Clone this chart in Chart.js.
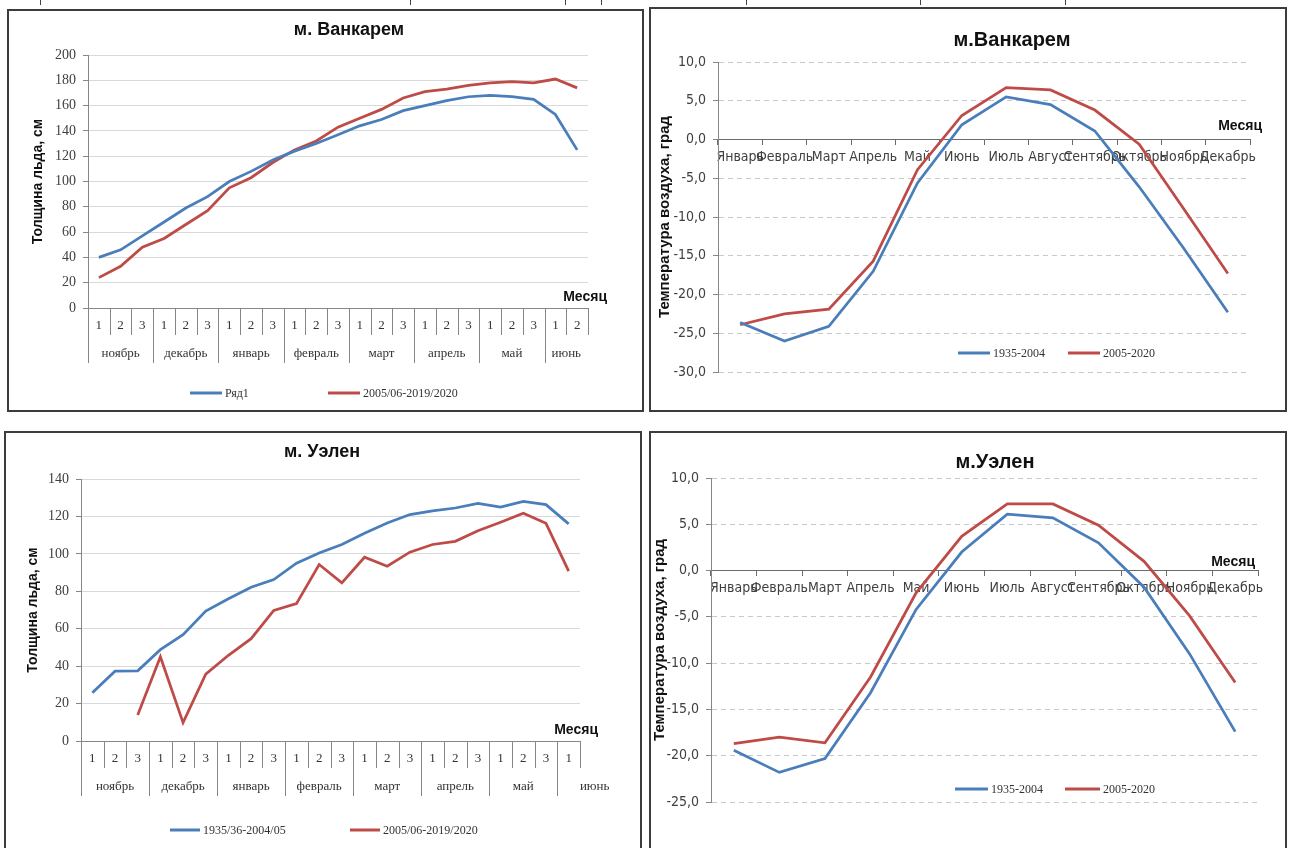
<!DOCTYPE html>
<html>
<head>
<meta charset="utf-8">
<script src="https://cdn.jsdelivr.net/npm/chart.js@4.4.1/dist/chart.umd.min.js"></script>
<style>
  body { margin: 0; background: #fff; }
  #page { position: relative; width: 1291px; height: 848px; overflow: hidden; background: #fff; }
  .panel { position: absolute; box-sizing: border-box; border: 2px solid #3c3c3c; }
  .panel canvas { position: absolute; left: 0; top: 0; }
  .mark { position: absolute; top: 0; width: 1px; height: 5px; background: #444; }
</style>
</head>
<body>
<div id="page">
  <div class="mark" style="left:40px"></div>
  <div class="mark" style="left:410px"></div>
  <div class="mark" style="left:565px"></div>
  <div class="mark" style="left:601px"></div>
  <div class="mark" style="left:746px"></div>
  <div class="mark" style="left:920px"></div>
  <div class="mark" style="left:1065px"></div>

  <div class="panel" style="left:7px;top:9px;width:637px;height:403px"><canvas id="iceVankarem" width="633" height="399"></canvas></div>
  <div class="panel" style="left:649px;top:7px;width:638px;height:405px"><canvas id="tempVankarem" width="634" height="401"></canvas></div>
  <div class="panel" style="left:4px;top:431px;width:638px;height:421px"><canvas id="iceUelen" width="634" height="417"></canvas></div>
  <div class="panel" style="left:649px;top:431px;width:638px;height:421px"><canvas id="tempUelen" width="634" height="417"></canvas></div>
</div>

<script>
// ---- data ----
const iceMonths = ["ноябрь", "декабрь", "январь", "февраль", "март", "апрель", "май", "июнь"];
const vankaremDekads = [3, 3, 3, 3, 3, 3, 3, 2]; // dekads shown per month
const uelenDekads = [3, 3, 3, 3, 3, 3, 3, 1];

const vankaremIceOld = [40, 46, 57, 68, 79, 88, 100, 108, 117, 124, 130, 137, 144, 149, 156, 160, 164, 167, 168, 167, 165, 153, 125];
const vankaremIceNew = [24, 33, 48, 55, 66, 77, 95, 103, 115, 125, 132, 143, 150, 157, 166, 171, 173, 176, 178, 179, 178, 181, 174];

const uelenIceOld = [25.8, 37.3, 37.5, 48.8, 56.8, 69.4, 76, 82.2, 86.3, 95, 100.5, 105, 111, 116.5, 121, 123, 124.5, 127, 125, 128, 126.3, 116];
const uelenIceNew = [null, null, 13.9, 45, 9.8, 35.7, 45.8, 54.7, 69.8, 73.4, 94.3, 84.5, 98.2, 93.4, 100.9, 105, 106.7, 112.4, 116.9, 121.7, 116.3, 90.8];

const tempMonths = ["Январь", "Февраль", "Март", "Апрель", "Май", "Июнь", "Июль", "Август", "Сентябрь", "Октябрь", "Ноябрь", "Декабрь"];
const vankaremTempOld = [-23.6, -26.0, -24.1, -17.0, -5.6, 1.9, 5.5, 4.5, 1.1, -6.1, -14.0, -22.3];
const vankaremTempNew = [-23.9, -22.5, -21.9, -15.7, -3.9, 3.1, 6.7, 6.4, 3.8, -0.6, -8.9, -17.3];
const uelenTempOld = [-19.4, -21.8, -20.3, -13.2, -4.2, 2.0, 6.1, 5.7, 3.0, -1.8, -9.0, -17.4];
const uelenTempNew = [-18.7, -18.0, -18.6, -11.5, -2.4, 3.7, 7.2, 7.2, 4.9, 1.0, -4.9, -12.1];

// ---- style ----
const BLUE = "#4a7ebb";
const RED = "#be4b48";
const SANS = "'Liberation Sans', Arial, sans-serif";
const NARROW = "'Liberation Sans Narrow', 'DejaVu Sans Condensed', 'Liberation Sans', sans-serif";
const SERIF = "'Liberation Serif', 'DejaVu Serif', serif";

// extra texts per canvas (title, "Месяц", legend, grouped month axis)
const decor = {
  iceVankarem: {
    title: "м. Ванкарем", titleFont: "bold 18px " + SANS, titleX: 340, titleY: 19,
    monthDx: 19, monthDy: 11,
    legendY: 382, legendFont: "12px " + SERIF,
    legend: [[181, 213, BLUE, "Ряд1"], [319, 351, RED, "2005/06-2019/2020"]],
    groups: vankaremDekads, lastShift: 0,
  },
  tempVankarem: {
    title: "м.Ванкарем", titleFont: "bold 20px " + SANS, titleX: 361, titleY: 31,
    monthDx: 12, monthDy: 13,
    legendY: 344, legendFont: "12px " + SERIF,
    legend: [[307, 339, BLUE, "1935-2004"], [417, 449, RED, "2005-2020"]],
  },
  iceUelen: {
    title: "м. Уэлен", titleFont: "bold 18px " + SANS, titleX: 316, titleY: 19,
    monthDx: 18, monthDy: 11,
    legendY: 397, legendFont: "12px " + SERIF,
    legend: [[164, 194, BLUE, "1935/36-2004/05"], [344, 374, RED, "2005/06-2019/2020"]],
    groups: uelenDekads, lastShift: 26,
  },
  tempUelen: {
    title: "м.Уэлен", titleFont: "bold 20px " + SANS, titleX: 344, titleY: 29,
    monthDx: -3, monthDy: 8,
    legendY: 356, legendFont: "12px " + SERIF,
    legend: [[304, 337, BLUE, "1935-2004"], [414, 449, RED, "2005-2020"]],
  },
};

Chart.register({
  id: "decor",
  afterDraw(chart) {
    const d = decor[chart.canvas.id];
    if (!d) return;
    const ctx = chart.ctx;
    const area = chart.chartArea;
    const xs = chart.scales.x;
    const zeroY = chart.scales.y.getPixelForValue(0);
    ctx.save();
    ctx.textBaseline = "middle";

    // title
    ctx.fillStyle = "#111";
    ctx.textAlign = "center";
    ctx.font = d.titleFont;
    ctx.fillText(d.title, d.titleX, d.titleY);

    // axis name
    ctx.textAlign = "right";
    ctx.font = "bold 14px " + SANS;
    ctx.fillText("Месяц", area.right + d.monthDx, zeroY - d.monthDy);

    // legend
    ctx.font = d.legendFont;
    ctx.textAlign = "left";
    d.legend.forEach(([x1, x2, color, text]) => {
      ctx.strokeStyle = color;
      ctx.lineWidth = 3;
      ctx.beginPath();
      ctx.moveTo(x1, d.legendY);
      ctx.lineTo(x2, d.legendY);
      ctx.stroke();
      ctx.fillStyle = "#333";
      ctx.fillText(text, x2 + 3, d.legendY + 1);
    });

    // two-level category axis: dekad numbers + month names
    if (d.groups) {
      const labels = chart.data.labels;
      const half = (xs.getPixelForValue(1) - xs.getPixelForValue(0)) / 2;
      const base = area.bottom;
      ctx.font = "13px " + SERIF;
      ctx.textAlign = "center";
      ctx.fillStyle = "#333";
      labels.forEach((lab, i) => ctx.fillText(lab, xs.getPixelForValue(i), base + 18));

      const starts = [];
      let k = 0;
      d.groups.forEach((n, g) => {
        starts.push(k);
        let cx = (xs.getPixelForValue(k) + xs.getPixelForValue(k + n - 1)) / 2;
        if (g === d.groups.length - 1) cx += d.lastShift;
        ctx.fillText(iceMonths[g], cx, base + 46);
        k += n;
      });

      ctx.strokeStyle = "#868686";
      ctx.lineWidth = 1;
      for (let i = 0; i <= labels.length; i++) {
        const bx = Math.round(xs.getPixelForValue(0) - half + 2 * half * i) + 0.5;
        const long = i < labels.length && starts.includes(i);
        ctx.beginPath();
        ctx.moveTo(bx, base);
        ctx.lineTo(bx, base + (long ? 55 : 27));
        ctx.stroke();
      }
    }
    ctx.restore();
  },
});

function dekadLabels(counts) {
  return counts.flatMap((n) => Array.from({ length: n }, (_, i) => String(i + 1)));
}

function series(label, data, color) {
  return {
    label: label,
    data: data,
    borderColor: color,
    backgroundColor: color,
    borderWidth: 2.75,
    pointRadius: 0,
    tension: 0,
    spanGaps: false,
  };
}

function iceChart(id, counts, oldData, newData, names, yMax, lay) {
  return new Chart(document.getElementById(id), {
    type: "line",
    data: {
      labels: dekadLabels(counts),
      datasets: [series(names[0], oldData, BLUE), series(names[1], newData, RED)],
    },
    options: {
      responsive: false,
      animation: false,
      devicePixelRatio: 1,
      layout: { padding: lay.padding },
      plugins: { legend: { display: false }, tooltip: { enabled: false } },
      scales: {
        x: {
          type: "category",
          offset: true,
          grid: { display: false },
          ticks: { display: false },
          border: { color: "#868686" },
          afterFit: (s) => { s.height = lay.xh; },
        },
        y: {
          min: 0,
          max: yMax,
          ticks: { stepSize: 20, color: "#404040", padding: 7, font: { family: SERIF, size: 14 } },
          grid: { color: "#d9d9d9", tickColor: "#868686", tickLength: 5 },
          border: { color: "#868686" },
          title: {
            display: true,
            text: "Толщина льда, см",
            color: "#111",
            padding: { top: 4, bottom: 4 },
            font: { family: SANS, size: 14, weight: "bold" },
          },
          afterFit: (s) => { s.width = lay.yw; },
        },
      },
    },
  });
}

function tempChart(id, oldData, newData, yMin, lay) {
  return new Chart(document.getElementById(id), {
    type: "line",
    data: {
      labels: tempMonths,
      datasets: [series("1935-2004", oldData, BLUE), series("2005-2020", newData, RED)],
    },
    options: {
      responsive: false,
      animation: false,
      devicePixelRatio: 1,
      layout: { padding: lay.padding },
      plugins: { legend: { display: false }, tooltip: { enabled: false } },
      scales: {
        x: {
          type: "category",
          offset: true,
          position: { y: 0 },
          grid: { display: true, offset: true, drawOnChartArea: false, tickLength: 5, tickColor: "#6b6b6b" },
          border: { color: "#6b6b6b" },
          ticks: { autoSkip: false, maxRotation: 0, minRotation: 0, padding: 4, color: "#404040", font: { family: NARROW, size: 14 } },
        },
        y: {
          min: yMin,
          max: 10,
          ticks: {
            stepSize: 5,
            color: "#404040",
            padding: 7,
            font: { family: NARROW, size: 14 },
            callback: (v) => v.toFixed(1).replace(".", ","),
          },
          grid: { color: "#c8c8c8", tickColor: "#868686", tickLength: 5 },
          border: { color: "#868686", dash: [5, 4] },
          title: {
            display: true,
            text: "Температура воздуха, град",
            color: "#111",
            padding: 0,
            font: { family: SANS, size: 15, weight: "bold" },
          },
          afterFit: (s) => { s.width = lay.yw; },
        },
      },
    },
  });
}

iceChart("iceVankarem", vankaremDekads, vankaremIceOld, vankaremIceNew, ["Ряд1", "2005/06-2019/2020"], 200,
  { padding: { top: 44, left: 17, right: 54, bottom: 12 }, xh: 90, yw: 62 });
iceChart("iceUelen", uelenDekads, uelenIceOld, uelenIceNew, ["1935/36-2004/05", "2005/06-2019/2020"], 140,
  { padding: { top: 46, left: 15, right: 60, bottom: 19 }, xh: 90, yw: 60 });
tempChart("tempVankarem", vankaremTempOld, vankaremTempNew, -30,
  { padding: { top: 53, left: 5, right: 35, bottom: 38 }, yw: 62 });
tempChart("tempUelen", uelenTempOld, uelenTempNew, -25,
  { padding: { top: 45, left: 0, right: 27, bottom: 48 }, yw: 60 });
</script>
</body>
</html>
